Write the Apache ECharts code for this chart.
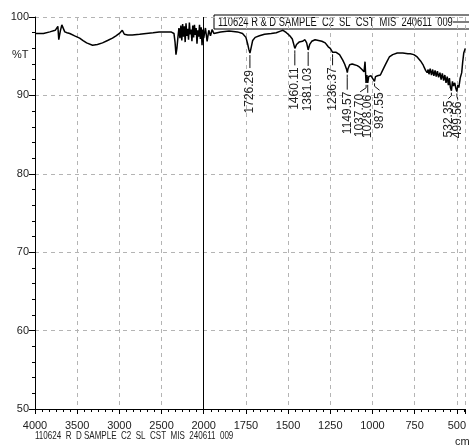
<!DOCTYPE html>
<html>
<head>
<meta charset="utf-8">
<script src="https://cdn.jsdelivr.net/npm/echarts@6/dist/echarts.min.js"></script>
<style>
  html, body { margin: 0; padding: 0; background: #fff; }
  #main { width: 469px; height: 445px; }
</style>
</head>
<body>
<div id="main"></div>
<script>
// sample name (legend + footer)
var sampleName = '110624 R & D SAMPLE  C2  SL  CST  MIS  240611  009'
var footerText = '110624  R  D SAMPLE  C2  SL  CST  MIS  240611  009'

// x ticks (axis changes scale at 2000 cm-1)
var xTickLabels = ['4000', '3500', '3000', '2500', '2000', '1750', '1500', '1250', '1000', '750', '500']

// spectrum: wavenumber (cm-1) and %T
var wavenumber = [
  4000, 3900, 3824, 3760, 3741, 3729, 3718, 3700, 3682, 3659, 3647, 3620, 3588, 3530, 3471, 3430,
  3388, 3318, 3260, 3200, 3140, 3082, 3040, 3000, 2965, 2941, 2900, 2847, 2760, 2682, 2600, 2529,
  2460, 2388, 2353, 2340, 2329, 2318, 2306, 2294, 2282, 2271, 2260, 2250, 2240, 2230, 2220, 2210,
  2200, 2190, 2180, 2170, 2160, 2150, 2140, 2130, 2120, 2110, 2100, 2090, 2080, 2070, 2060, 2050,
  2040, 2030, 2020, 2010, 2000, 1990, 1980, 1970, 1960, 1950, 1940, 1900, 1850, 1800, 1770, 1750,
  1740, 1733, 1726, 1718, 1710, 1695, 1670, 1640, 1600, 1570, 1545, 1530, 1510, 1490, 1475, 1460,
  1450, 1435, 1415, 1400, 1390, 1381, 1372, 1360, 1340, 1320, 1300, 1280, 1262, 1250, 1236, 1225,
  1215, 1206, 1195, 1176, 1165, 1153, 1149, 1145, 1135, 1120, 1106, 1090, 1076, 1062, 1050, 1044,
  1038, 1033, 1028, 1022, 1016, 1008, 1000, 994, 988, 982, 970, 953, 940, 924, 912, 900,
  880, 853, 820, 790, 776, 755, 735, 715, 700, 694, 685, 676, 670, 665, 658, 650,
  643, 636, 629, 622, 615, 608, 600, 593, 586, 578, 571, 564, 557, 550, 544, 538,
  532, 526, 520, 512, 506, 500, 494, 488, 480, 471, 465, 459, 450
]
var transmittance = [
  97.9, 97.9, 98.1, 98.3, 98.4, 98.8, 97.1, 98.2, 99.0, 99.1, 98.1, 98.0, 97.9, 97.6, 97.3, 97.0,
  96.7, 96.4, 96.5, 96.7, 97.0, 97.3, 97.6, 97.9, 98.3, 97.8, 97.7, 97.7, 97.8, 97.9, 98.0, 98.1,
  98.1, 98.1, 97.9, 96.8, 95.2, 96.0, 97.4, 98.6, 97.3, 98.9, 97.0, 99.1, 97.5, 98.8, 96.8, 99.2,
  97.6, 98.5, 97.1, 99.3, 97.8, 98.4, 96.9, 98.9, 97.4, 99.0, 97.7, 98.6, 96.6, 98.3, 97.5, 99.0,
  97.2, 98.7, 96.4, 98.4, 97.3, 98.6, 96.9, 98.3, 97.6, 98.4, 97.9, 98.1, 98.2, 98.1, 97.9, 97.4,
  96.6, 95.9, 95.4, 96.2, 97.0, 97.4, 97.6, 97.8, 97.9, 98.0, 98.2, 98.3, 98.0, 97.6, 97.2, 96.0,
  96.5, 96.8, 96.9, 97.1, 96.7, 95.8, 96.5, 96.9, 97.1, 97.0, 96.9, 96.7, 96.2, 96.0, 95.5, 95.7,
  95.5, 95.4, 95.2, 94.5, 94.0, 93.3, 92.9, 93.4, 93.9, 94.0, 93.9, 93.8, 93.6, 93.3, 93.0, 94.3,
  91.6, 92.6, 91.6, 92.4, 92.2, 92.5, 92.2, 92.3, 91.8, 92.4, 92.5, 92.6, 93.2, 93.9, 94.4, 94.9,
  95.2, 95.4, 95.4, 95.3, 95.3, 95.2, 94.9, 94.4, 93.9, 93.6, 93.2, 92.9, 93.3, 92.7, 93.4, 92.6,
  93.3, 92.5, 93.2, 92.4, 93.1, 92.3, 92.9, 92.0, 92.8, 91.9, 92.6, 91.6, 92.4, 91.3, 92.2, 91.0,
  90.6, 91.8, 91.2, 91.6, 90.9, 90.5, 91.3, 91.0, 92.2, 92.9, 94.3, 95.4, 96.0
]

// labelled peaks
var peakWn = [1726.29, 1460.11, 1381.03, 1236.37, 1149.57, 1037.70, 1028.06, 987.55, 532.35, 499.56]
var peakT = [95.4, 96.0, 95.8, 95.5, 92.9, 91.6, 91.6, 91.8, 90.6, 90.5]
// label placement (px): sideways shift and drop below the peak
var peakDx = [0, 0, 0, 0, 0, -6, 0, 5, -3, 1]
var peakDrop = [17, 19, 18, 15, 19, 11, 12, 11, 10, 10]

// axis coordinate: 4000-2000 compressed 2:1 vs 2000-450
function toC(w) { return w >= 2000 ? (4000 - w) / 2 : 1000 + (2000 - w) }

var FONT = '"Liberation Sans", Arial, sans-serif'

var lineData = wavenumber.map(function (w, i) { return [toC(w), transmittance[i]] })
var peakData = peakWn.map(function (w, i) { return [toC(w), peakT[i], i] })

var myChart = echarts.init(document.getElementById('main'))
var option = {
  animation: false,
  grid: { left: 35, right: 0.5, top: 17, bottom: 36 },
  xAxis: {
    type: 'value',
    min: 0,
    max: 2550,
    interval: 250,
    axisLine: { lineStyle: { color: '#000', width: 1 } },
    axisTick: { show: true, length: 5, lineStyle: { color: '#000' } },
    minorTick: { show: true, splitNumber: 6, length: 3, lineStyle: { color: '#000' } },
    axisLabel: {
      margin: 11,
      fontFamily: FONT,
      fontSize: 11,
      color: '#222',
      showMaxLabel: false,
      formatter: function (v) { return xTickLabels[Math.round(v / 250)] || '' }
    },
    splitLine: { show: true, lineStyle: { color: '#b4b4b4', type: [4, 4], width: 1 } }
  },
  yAxis: {
    type: 'value',
    min: 50,
    max: 100,
    interval: 10,
    axisLine: { show: true, lineStyle: { color: '#000', width: 1 } },
    axisTick: { show: true, length: 6, lineStyle: { color: '#000' } },
    minorTick: { show: true, splitNumber: 5, length: 3, lineStyle: { color: '#000' } },
    axisLabel: { margin: 6, fontFamily: FONT, fontSize: 11, color: '#222' },
    splitLine: { show: true, lineStyle: { color: '#b4b4b4', type: [4, 4], width: 1 } }
  },
  graphic: [
    { type: 'text', left: 12, top: 49, style: { text: '%T', font: '11px ' + FONT, fill: '#222' } },
    { type: 'text', x: 35, y: 430, scaleX: 0.73, style: { text: footerText, font: '11px ' + FONT, fill: '#222' } },
    { type: 'text', left: 455, top: 436, style: { text: 'cm', font: '11px ' + FONT, fill: '#222' } },
    // legend box
    {
      type: 'group',
      x: 214,
      y: 15,
      z: 20,
      children: [
        { type: 'rect', shape: { x: 0, y: 0, width: 262, height: 14 }, style: { fill: '#fff', stroke: '#000', lineWidth: 1 } },
        { type: 'text', x: 4, y: 7.5, scaleX: 0.78, style: { text: sampleName, font: '12px ' + FONT, fill: '#111', verticalAlign: 'middle' } },
        { type: 'line', shape: { x1: 239, y1: 7, x2: 262, y2: 7 }, style: { stroke: '#000', lineWidth: 1 } }
      ]
    }
  ],
  series: [
    {
      name: sampleName,
      type: 'line',
      data: lineData,
      showSymbol: false,
      itemStyle: { color: '#000' },
      lineStyle: { color: '#000', width: 1.5 },
      markLine: {
        silent: true,
        symbol: 'none',
        label: { show: false },
        lineStyle: { color: '#000', type: 'solid', width: 1 },
        data: [{ xAxis: 1000 }]
      },
      z: 3
    },
    {
      type: 'custom',
      data: peakData,
      z: 4,
      renderItem: function (params, api) {
        var i = api.value(2)
        var p = api.coord([api.value(0), api.value(1)])
        var tx = p[0] + peakDx[i]
        var ty = p[1] + peakDrop[i]
        return {
          type: 'group',
          children: [
            {
              type: 'polyline',
              shape: { points: [[p[0], p[1] + 2], [p[0], p[1] + 5], [tx, ty - 2]] },
              style: { stroke: '#111', lineWidth: 1, fill: null }
            },
            {
              type: 'text',
              x: tx,
              y: ty,
              rotation: Math.PI / 2,
              style: {
                text: peakWn[i].toFixed(2),
                align: 'right',
                verticalAlign: 'middle',
                font: '12px ' + FONT,
                fill: '#222'
              }
            }
          ]
        }
      }
    }
  ]
}
myChart.setOption(option)
window.onresize = function () { myChart.resize() }
</script>
</body>
</html>
